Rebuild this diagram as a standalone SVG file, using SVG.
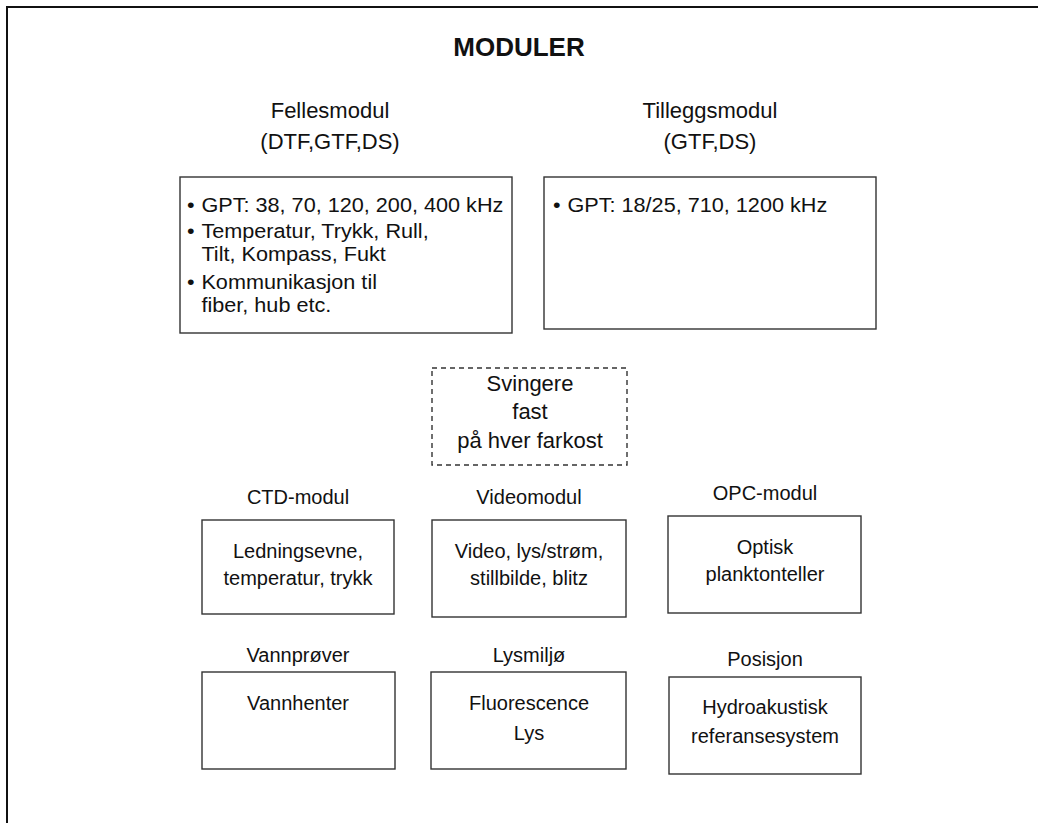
<svg xmlns="http://www.w3.org/2000/svg" width="1038" height="823" viewBox="0 0 1038 823">
<style>
text{font-family:"Liberation Sans",Arial,sans-serif;fill:#111;}
.t{font-size:26px;font-weight:bold;text-anchor:middle;}
.h{font-size:22px;text-anchor:middle;}
.l{font-size:20px;text-anchor:middle;}
.b{font-size:19.5px;}
.box{fill:none;stroke:#333;stroke-width:1.4;}
.dash{fill:none;stroke:#333;stroke-width:1.4;stroke-dasharray:5,4;}
.frame{fill:none;stroke:#111;stroke-width:2;}
</style>
<rect width="1038" height="823" fill="#fff"/>
<path class="frame" d="M7,823 V7 H1038"/>
<text class="t" x="519" y="56">MODULER</text>
<g id="fellesmodul">
<text class="h" x="330" y="118">Fellesmodul</text>
<text class="h" x="330" y="149">(DTF,GTF,DS)</text>
<rect class="box" x="180" y="177" width="332" height="156"/>
<g transform="translate(187 0) scale(1.11 1)">
<text class="b" x="0" y="212">•</text>
<text class="b" x="13" y="212">GPT: 38, 70, 120, 200, 400 kHz</text>
<text class="b" x="0" y="238">•</text>
<text class="b" x="13" y="238">Temperatur, Trykk, Rull,</text>
<text class="b" x="13" y="261">Tilt, Kompass, Fukt</text>
<text class="b" x="0" y="289">•</text>
<text class="b" x="13" y="289">Kommunikasjon til</text>
<text class="b" x="13" y="312">fiber, hub etc.</text>
</g>
</g>
<g id="tilleggsmodul">
<text class="h" x="710" y="118">Tilleggsmodul</text>
<text class="h" x="710" y="149">(GTF,DS)</text>
<rect class="box" x="544" y="177" width="332" height="152"/>
<g transform="translate(553 0) scale(1.11 1)">
<text class="b" x="0" y="212">•</text>
<text class="b" x="13" y="212">GPT: 18/25, 710, 1200 kHz</text>
</g>
</g>
<g id="svingere">
<rect class="dash" x="432" y="368" width="195" height="97"/>
<text class="h" x="530" y="391">Svingere</text>
<text class="h" x="530" y="419">fast</text>
<text class="h" x="530" y="448">på hver farkost</text>
</g>
<g id="ctd">
<text class="l" x="298" y="504">CTD-modul</text>
<rect class="box" x="202" y="520" width="192" height="94"/>
<text class="l" x="298" y="558">Ledningsevne,</text>
<text class="l" x="298" y="585">temperatur, trykk</text>
</g>
<g id="video">
<text class="l" x="529" y="504">Videomodul</text>
<rect class="box" x="432" y="520" width="194" height="97"/>
<text class="l" x="529" y="558">Video, lys/strøm,</text>
<text class="l" x="529" y="585">stillbilde, blitz</text>
</g>
<g id="opc">
<text class="l" x="765" y="500">OPC-modul</text>
<rect class="box" x="668" y="516" width="193" height="97"/>
<text class="l" x="765" y="554">Optisk</text>
<text class="l" x="765" y="581">planktonteller</text>
</g>
<g id="vannprover">
<text class="l" x="298" y="662">Vannprøver</text>
<rect class="box" x="202" y="672" width="193" height="97"/>
<text class="l" x="298" y="710">Vannhenter</text>
</g>
<g id="lysmiljo">
<text class="l" x="529" y="662">Lysmiljø</text>
<rect class="box" x="431" y="672" width="195" height="97"/>
<text class="l" x="529" y="710">Fluorescence</text>
<text class="l" x="529" y="740">Lys</text>
</g>
<g id="posisjon">
<text class="l" x="765" y="666">Posisjon</text>
<rect class="box" x="669" y="677" width="192" height="97"/>
<text class="l" x="765" y="714">Hydroakustisk</text>
<text class="l" x="765" y="743">referansesystem</text>
</g>
<g id="connectors"></g>
</svg>
